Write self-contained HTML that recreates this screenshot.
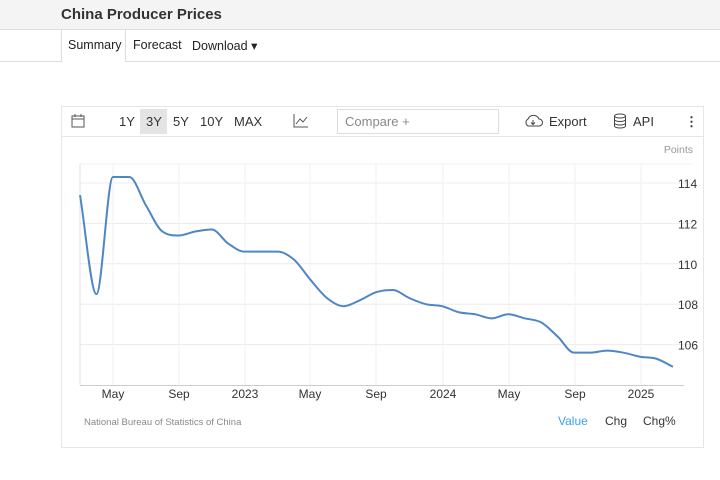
<!DOCTYPE html><html><head><style>
body{margin:0;width:720px;height:480px;background:#fff;font-family:"Liberation Sans",sans-serif;position:relative;overflow:hidden}
.hdr{position:absolute;left:0;top:0;width:720px;height:29px;background:#f4f4f4;border-bottom:1px solid #ddd}
.hdr b{position:absolute;left:61px;top:6px;font-size:15px;color:#333}
.tabs{position:absolute;left:0;top:30px;width:720px;height:31px;border-bottom:1px solid #ddd}
.t{position:absolute;top:38px;font-size:12.5px;color:#222}
.sum{position:absolute;left:61px;top:30px;width:63px;height:32px;border-left:1px solid #ddd;border-right:1px solid #ddd;background:#fff}
.box{position:absolute;left:61px;top:106px;width:641px;height:340px;border:1px solid #e6e6e6}
.tb{position:absolute;left:0;top:0;width:641px;height:29px;border-bottom:1px solid #e6e6e6}
.tb span{position:absolute;top:7px;font-size:13px;color:#333}
</style></head><body>
<div class="hdr"><b>China Producer Prices</b></div>
<div class="tabs"></div>
<div class="sum"></div>
<span class="t" style="left:68px">Summary</span>
<span class="t" style="left:133px">Forecast</span>
<span class="t" style="left:192px">Download ▾</span>
<div class="box">
<div class="tb">
<svg style="position:absolute;left:9px;top:7px" width="14" height="14"><rect x="1" y="2" width="12" height="11" fill="none" stroke="#555"/><line x1="1" y1="5" x2="13" y2="5" stroke="#555"/><line x1="4" y1="0" x2="4" y2="3" stroke="#555"/><line x1="10" y1="0" x2="10" y2="3" stroke="#555"/></svg>
<span style="left:57px">1Y</span>
<div style="position:absolute;left:78px;top:2px;width:27px;height:25px;background:#e4e4e4"></div>
<span style="left:84px">3Y</span><span style="left:111px">5Y</span><span style="left:138px">10Y</span><span style="left:172px">MAX</span>
<svg style="position:absolute;left:231px;top:7px" width="16" height="14"><polyline points="1,0 1,13 15,13" fill="none" stroke="#555"/><polyline points="3,10 7,5 10,8 14,3" fill="none" stroke="#555"/></svg>
<div style="position:absolute;left:275px;top:2px;width:160px;height:23px;border:1px solid #ddd"></div>
<span style="left:283px;color:#888">Compare +</span>
<svg style="position:absolute;left:461px;top:6px" width="20" height="16"><path d="M5 13 A4 4 0 0 1 5 6 A6 6 0 0 1 16 6 A3.5 3.5 0 0 1 16 13 Z" fill="none" stroke="#444"/><path d="M10 7 V11 M8 9.5 L10 11.5 L12 9.5" stroke="#444" fill="none"/></svg>
<span style="left:487px">Export</span>
<svg style="position:absolute;left:551px;top:6px" width="14" height="16"><ellipse cx="7" cy="3" rx="5.5" ry="2" fill="none" stroke="#444"/><path d="M1.5 3V13A5.5 2 0 0 0 12.5 13V3M1.5 6.5A5.5 2 0 0 0 12.5 6.5M1.5 10A5.5 2 0 0 0 12.5 10" fill="none" stroke="#444"/></svg>
<span style="left:571px">API</span>
<span style="left:623px;font-weight:bold">⋮</span>
</div>
</div>
<svg id="c" style="position:absolute;left:0;top:0" width="720" height="480" font-family="Liberation Sans,sans-serif"></svg>
<script>
var s='',ys=[114,112,110,108,106];
s+='<text x="693" y="153" font-size="10.5" fill="#999" text-anchor="end">Points</text>';
s+='<line x1="80" y1="164" x2="692" y2="164" stroke="#f0f0f0"/>';
ys.forEach(function(v){var y=183+(114-v)*20.2;s+='<line x1="80" y1="'+y+'" x2="692" y2="'+y+'" stroke="#ececec"/><text x="678" y="'+(y+5)+'" font-size="12" fill="#333">'+v+'</text>';});
var xl=[["May",113],["Sep",179],["2023",245],["May",310],["Sep",376],["2024",443],["May",509],["Sep",575],["2025",641]];
xl.forEach(function(a){s+='<line x1="'+a[1]+'" y1="164" x2="'+a[1]+'" y2="385" stroke="#f2f2f2"/><text x="'+a[1]+'" y="398" font-size="12" fill="#333" text-anchor="middle">'+a[0]+'</text>';});
s+='<line x1="80" y1="164" x2="80" y2="385" stroke="#e0e0e0"/><line x1="80" y1="385.5" x2="684" y2="385.5" stroke="#ccc"/>';
var d=[113.4,108.5,114.3,114.3,112.9,111.6,111.4,111.6,111.7,111.0,110.6,110.6,110.6,110.2,109.2,108.3,107.9,108.2,108.6,108.7,108.3,108.0,107.9,107.6,107.5,107.3,107.5,107.3,107.1,106.4,105.6,105.6,105.7,105.6,105.4,105.3,104.9];
var P=d.map(function(v,i){return [80+i*16.47,183+(114-v)*20.2];});
var n=P.length,h=16.47,dl=[],m=[];
for(var i=0;i<n-1;i++)dl.push((P[i+1][1]-P[i][1])/h);
m[0]=dl[0];m[n-1]=dl[n-2];
for(i=1;i<n-1;i++){m[i]=(dl[i-1]*dl[i]<=0)?0:(dl[i-1]+dl[i])/2;}
for(i=0;i<n-1;i++){if(dl[i]==0){m[i]=0;m[i+1]=0;}else{var a=m[i]/dl[i],b=m[i+1]/dl[i],t=a*a+b*b;if(t>9){t=3/Math.sqrt(t);m[i]=t*a*dl[i];m[i+1]=t*b*dl[i];}}}
var p='M'+P[0][0]+' '+P[0][1];
for(i=0;i<n-1;i++){p+=' C'+(P[i][0]+h/3)+' '+(P[i][1]+m[i]*h/3)+' '+(P[i+1][0]-h/3)+' '+(P[i+1][1]-m[i+1]*h/3)+' '+P[i+1][0]+' '+P[i+1][1];}
s+='<path d="'+p+'" fill="none" stroke="#4f86c6" stroke-width="2"/>';
s+='<text x="84" y="425" font-size="9.5" fill="#888">National Bureau of Statistics of China</text>';
s+='<text x="558" y="425" font-size="12" fill="#3ea0f0">Value</text><text x="605" y="425" font-size="12" fill="#333">Chg</text><text x="643" y="425" font-size="12" fill="#333">Chg%</text>';
document.getElementById('c').innerHTML=s;
</script>
</body></html>
